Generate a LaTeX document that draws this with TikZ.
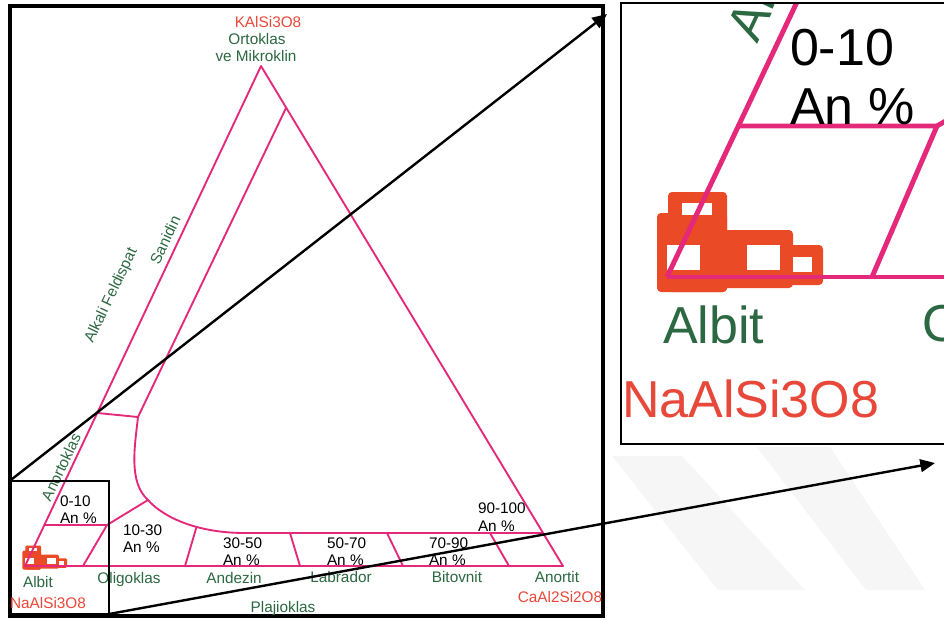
\documentclass[tikz,border=0pt]{standalone}
\usepackage{fontspec}
\setmainfont{Liberation Sans}
\usetikzlibrary{arrows.meta}

\definecolor{fieldpink}{RGB}{228,40,122}
\definecolor{phasegreen}{RGB}{44,104,66}
\definecolor{formulared}{RGB}{232,72,58}
\definecolor{crystalred}{RGB}{234,74,38}
\definecolor{markgray}{RGB}{246,246,246}

\tikzset{
  every node/.style={inner sep=0pt, outer sep=0pt},
  lbl/.style={font=\fontsize{11.5}{13}\selectfont, text height=8.3pt, text depth=0pt},
  phase/.style={lbl, text=phasegreen},
  formula/.style={lbl, text=formulared},
  anrange/.style={font=\fontsize{11.5}{13}\selectfont, anchor=base west, text=black},
  biglbl/.style={font=\fontsize{39}{47}\selectfont, anchor=base west},
  field/.style={draw=fieldpink, line width=1.4pt, line join=round, line cap=round},
  bigfield/.style={draw=fieldpink, line width=3.7pt, line join=round},
  frameline/.style={draw=black, line width=3pt},
  thinbox/.style={draw=black, line width=1.3pt},
  zoomarrow/.style={draw=black, line width=1.8pt, -{Triangle[length=11pt,width=9.5pt]}},
  % feldspar crystal symbol, drawn in pixel units with its top-left corner at the origin
  crystal/.pic={
    \fill[crystalred, rounded corners=#1] (0,21) rectangle (70,100);
    \fill[crystalred, rounded corners=#1] (11,0) rectangle (70,100);
    \fill[crystalred, rounded corners=#1] (66,38) rectangle (136,96);
    \fill[crystalred, rounded corners=#1] (132,53) rectangle (166,93);
    \fill[white] (25,11) rectangle (55,23);
    \fill[white] (10,53) rectangle (43,78);
    \fill[white] (90,53) rectangle (123,78);
    \fill[white] (136,65) rectangle (155,80);
  },
}

\begin{document}
\begin{tikzpicture}[x=0.75pt, y=-0.75pt]
\useasboundingbox (0,0) rectangle (944,619);
\clip (0,0) rectangle (944,619);
\fill[white] (0,0) rectangle (944,619);

% faint background stripes
\fill[markgray] (612,456) -- (682,456) -- (805,590) -- (718,590) -- cycle;
\fill[markgray] (757,447) -- (830,447) -- (925,590) -- (866,590) -- cycle;

% ---------------- ternary feldspar diagram ----------------
\draw[frameline] (9.5,5.5) rectangle (603,616);

\pic (albiteIcon) [xscale=0.27, yscale=0.24] at (22.3,545.6) {crystal=1pt};

\coordinate (Ab) at (25,566);
\coordinate (Or) at (261,66);
\coordinate (AnV) at (563,566);
\draw[field] (Ab) -- (Or) -- (AnV) -- cycle;

% sanidine boundary and solvus curve
\coordinate (sanTop) at (286,108);
\coordinate (sanBot) at (138,417);
\coordinate (anoL) at (97.5,413);
\coordinate (knee) at (148,500);
\coordinate (plagR) at (543,533);
\draw[field] (sanTop) -- (sanBot)
  .. controls (135,445) and (128,482) .. (knee)
  .. controls (165,519) and (200,533) .. (245,533) -- (plagR);
\draw[field] (anoL) -- (sanBot);

% plagioclase subdivisions
\coordinate (a10L) at (44.4,525);
\coordinate (a10R) at (107,525);
\coordinate (a10B) at (83,566);
\draw[field] (a10L) -- (a10R) -- (a10B);
\draw[field] (knee) -- (a10R);
\coordinate (a30T) at (196.5,527);  \coordinate (a30B) at (185,566);
\coordinate (a50T) at (290,533);    \coordinate (a50B) at (300,566);
\coordinate (a70T) at (387,533);    \coordinate (a70B) at (403,566);
\coordinate (a90T) at (490,533);    \coordinate (a90B) at (509,566);
\draw[field] (a30T) -- (a30B);
\draw[field] (a50T) -- (a50B);
\draw[field] (a70T) -- (a70B);
\draw[field] (a90T) -- (a90B);

% end-member and field names
\node[formula] (kal) at (268,22) {KAlSi3O8};
\node[phase] (ort) at (257,39) {Ortoklas};
\node[phase] (mik) at (256,56) {ve Mikroklin};
\node[phase, rotate=64.6] (alk) at (110,295) {Alkali Feldispat};
\node[phase, rotate=64.6] (san) at (165,240) {Sanidin};
\node[phase, rotate=64.6] (ano) at (61,467) {Anortoklas};

\node[anrange] (r1a) at (60,506.5) {0-10};   \node[anrange] (r1b) at (60,523.5) {An \%};
\node[anrange] (r2a) at (123,535.5) {10-30}; \node[anrange] (r2b) at (123,552.5) {An \%};
\node[anrange] (r3a) at (223,548.5) {30-50}; \node[anrange] (r3b) at (223,565.5) {An \%};
\node[anrange] (r4a) at (327,548.5) {50-70}; \node[anrange] (r4b) at (327,565.5) {An \%};
\node[anrange] (r5a) at (429,548.5) {70-90}; \node[anrange] (r5b) at (429,565.5) {An \%};
\node[anrange] (r6a) at (478,513.5) {90-100};\node[anrange] (r6b) at (478,531.5) {An \%};

\node[phase] (alb) at (38,582) {Albit};
\node[phase] (oli) at (129,578) {Oligoklas};
\node[phase] (and) at (234,578) {Andezin};
\node[phase] (lab) at (341,577) {Labrador};
\node[phase] (bit) at (457,577) {Bitovnit};
\node[phase] (ant) at (557,577) {Anortit};
\node[formula] (cas) at (560,597) {CaAl2Si2O8};
\node[formula] (nas) at (48,603) {NaAlSi3O8};
\node[phase] (pla) at (283,607) {Plajioklas};

% frame around the enlarged corner
\coordinate (zoomNW) at (9.5,481);
\coordinate (zoomSE) at (109,614);
\draw[thinbox] (zoomNW) rectangle (zoomSE);

% ---------------- enlarged albite corner ----------------
\begin{scope}
  \clip (621,3) rectangle (960,444);
  \pic (albiteBig) at (657,192) {crystal=3pt};
  \coordinate (bAb) at (667,277);
  \coordinate (bTop) at (805,-15);
  \coordinate (bL) at (738,126);
  \coordinate (bR) at (937,126);
  \coordinate (bB) at (872,277);
  \coordinate (bOut) at (1079,43);
  \coordinate (bEnd) at (960,277);
  \draw[bigfield] (bAb) -- (bTop);
  \draw[bigfield] (bL) -- (bR) -- (bB);
  \draw[bigfield] (bR) -- (bOut);
  \draw[bigfield] (bAb) -- (bEnd);
  \node[biglbl, text=phasegreen, rotate=64.6] (bano) at (757,44) {Anortoklas};
  \node[biglbl] (br1a) at (790,65) {0-10};
  \node[biglbl] (br1b) at (790,124) {An \%};
  \node[biglbl, text=phasegreen] (balb) at (663,343) {Albit};
  \node[biglbl, text=phasegreen] (boli) at (922,341) {Oligoklas};
  \node[biglbl, text=formulared] (bnas) at (622,417) {NaAlSi3O8};
\end{scope}
\draw[thinbox] (621,3) rectangle (960,444);

% connectors from the small frame to the enlargement
\coordinate (tipUp) at (607,14);
\coordinate (tipDown) at (935,463);
\draw[zoomarrow] (zoomNW) -- (tipUp);
\draw[zoomarrow] (zoomSE) -- (tipDown);
\end{tikzpicture}
\end{document}
